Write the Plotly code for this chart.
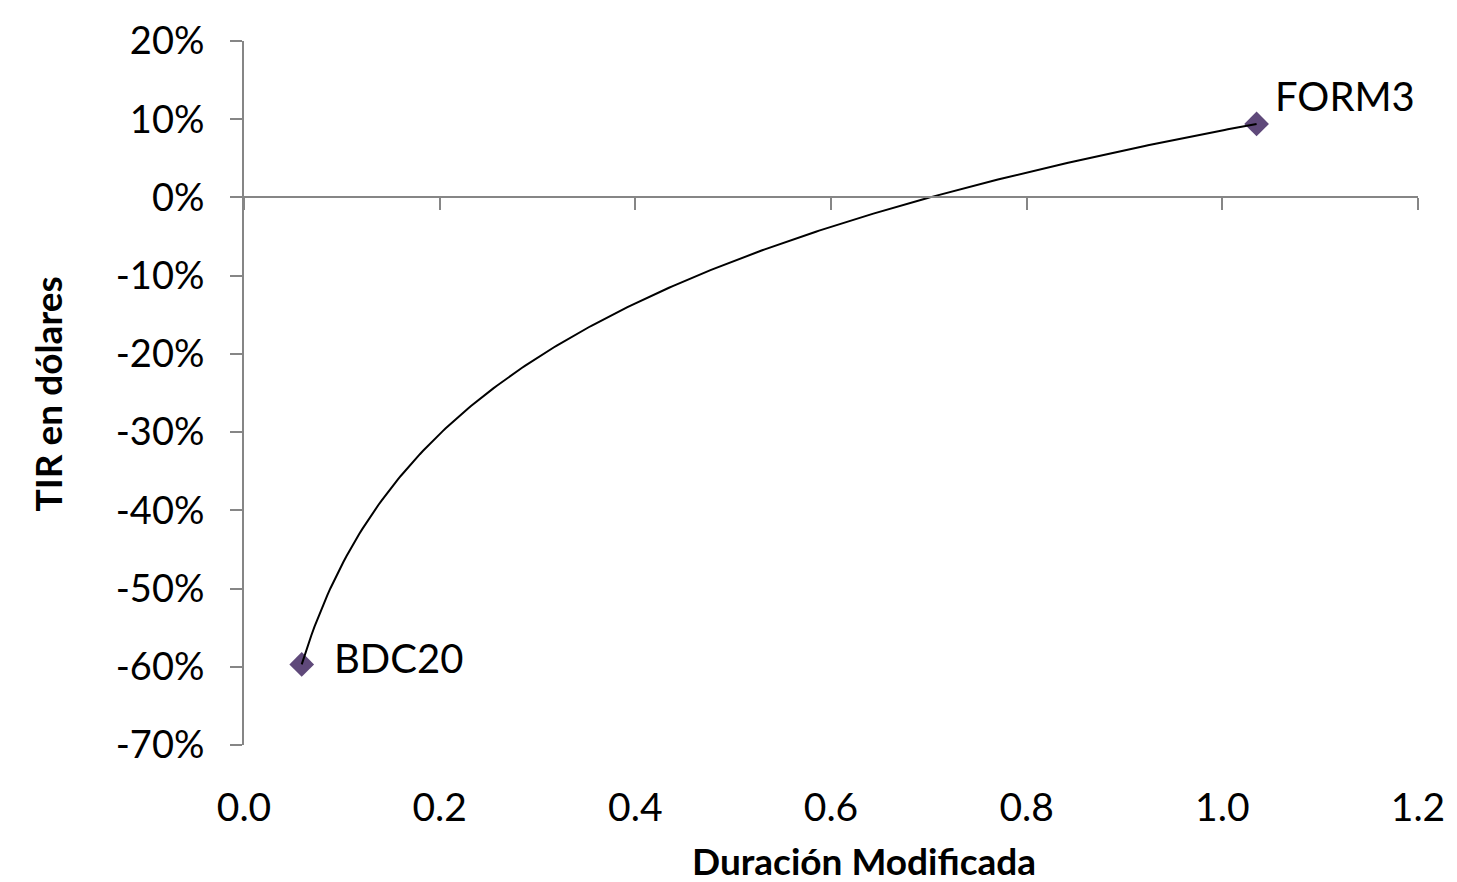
import numpy as np
import plotly.graph_objects as go

# Data
bond_names = ["BDC20", "FORM3"]
mod_duration = [0.059, 1.035]
tir_usd = [-0.597, 0.094]

x_ticks = [0.0, 0.2, 0.4, 0.6, 0.8, 1.0, 1.2]
x_tick_labels = ["0.0", "0.2", "0.4", "0.6", "0.8", "1.0", "1.2"]
y_ticks = [0.2, 0.1, 0.0, -0.1, -0.2, -0.3, -0.4, -0.5, -0.6, -0.7]
y_tick_labels = ["20%", "10%", "0%", "-10%", "-20%", "-30%", "-40%", "-50%", "-60%", "-70%"]

x_range = [0.0, 1.2]
y_range = [-0.7, 0.2]

# Logarithmic trendline (least-squares fit on ln(x), as Excel does)
a, b = np.polyfit(np.log(mod_duration), tir_usd, 1)
tx = np.linspace(min(mod_duration), max(mod_duration), 300)
ty = a * np.log(tx) + b

FONT = "Lato"
AXIS_COLOR = "#868686"

fig = go.Figure()
fig.add_trace(go.Scatter(
    x=mod_duration, y=tir_usd, mode="markers",
    marker=dict(symbol="diamond", size=19, color="#5F497A"),
    showlegend=False, hoverinfo="skip",
))
fig.add_trace(go.Scatter(
    x=tx, y=ty, mode="lines",
    line=dict(color="black", width=2),
    showlegend=False, hoverinfo="skip",
))
# invisible trace to activate the zero-crossing x axis
fig.add_trace(go.Scatter(x=x_range, y=[0, 0], xaxis="x2", mode="lines",
                         line=dict(width=0), showlegend=False, hoverinfo="skip"))

zero_pos = (0 - y_range[0]) / (y_range[1] - y_range[0])

fig.update_layout(
    width=1457, height=882,
    margin=dict(l=244, r=36, t=41, b=137),
    paper_bgcolor="white", plot_bgcolor="white",
    font=dict(family=FONT, color="black"),
    xaxis=dict(
        range=x_range, tickvals=x_ticks, ticktext=x_tick_labels,
        showgrid=False, zeroline=False, showline=False, ticks="",
        tickfont=dict(size=39, family=FONT), ticklabelstandoff=36,
    ),
    xaxis2=dict(
        overlaying="x", matches="x", anchor="free", position=zero_pos,
        side="bottom", tickvals=x_ticks, showticklabels=False,
        showgrid=False, zeroline=False, showline=True,
        linecolor=AXIS_COLOR, linewidth=2,
        ticks="outside", ticklen=12, tickwidth=2, tickcolor=AXIS_COLOR,
    ),
    yaxis=dict(
        range=y_range, tickvals=y_ticks, ticktext=y_tick_labels,
        showgrid=False, zeroline=False, showline=True,
        linecolor=AXIS_COLOR, linewidth=2,
        ticks="outside", ticklen=12, tickwidth=2, tickcolor=AXIS_COLOR,
        tickfont=dict(size=38, family=FONT), ticklabelstandoff=18,
    ),
    annotations=[
        dict(text="<b>Duración Modificada</b>", xref="paper", yref="paper",
             x=0.528, y=0, yshift=-115, xanchor="center", yanchor="middle",
             showarrow=False, font=dict(size=37, family=FONT)),
        dict(text="<b>TIR en dólares</b>", xref="paper", yref="paper",
             x=0, xshift=-197, y=0.498, xanchor="center", yanchor="middle",
             textangle=-90, showarrow=False, font=dict(size=37, family=FONT)),
        dict(text=bond_names[0], x=mod_duration[0], y=tir_usd[0],
             xanchor="left", yanchor="middle", xshift=30, yshift=6,
             showarrow=False, font=dict(size=40, family=FONT)),
        dict(text=bond_names[1], x=mod_duration[1], y=tir_usd[1],
             xanchor="left", yanchor="middle", xshift=16, yshift=28,
             showarrow=False, font=dict(size=40, family=FONT)),
    ],
)

fig.write_html("out.html", config={"displayModeBar": False},
               post_script="document.body.style.margin='0px';")
